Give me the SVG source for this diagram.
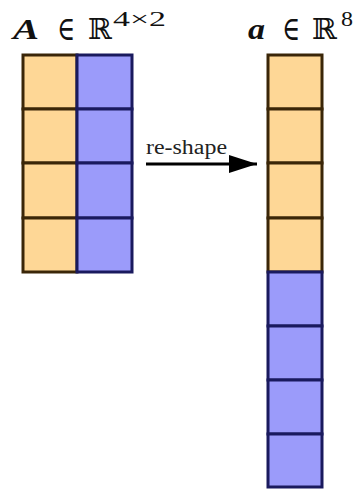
<svg xmlns="http://www.w3.org/2000/svg" width="355" height="489" viewBox="0 0 355 489">
  <style>
    .o { fill: #fed796; stroke: #3a2608; stroke-width: 3; }
    .b { fill: #9b9bfa; stroke: #1a1a5e; stroke-width: 3; }
    .t { font-family: "Liberation Serif", "DejaVu Serif", serif; fill: #111; font-size: 29px; }
    .el { font-family: "DejaVu Serif", serif; font-size: 34px; }
    .sup { font-size: 20px; }
    .bi { font-weight: bold; font-style: italic; }
    .lbl { font-family: "Liberation Serif", "DejaVu Serif", serif; font-size: 20px; fill: #222; }
  </style>
  <defs>
    <marker id="head" viewBox="0 0 28 18" refX="28" refY="9" markerWidth="28" markerHeight="18" markerUnits="userSpaceOnUse" orient="auto">
      <path d="M0,0 L28,9 L0,18 Z" fill="#000"/>
    </marker>
  </defs>

  <!-- matrix A (4 x 2) -->
  <g id="matrixA">
    <text class="t bi" x="13" y="39" textLength="26" lengthAdjust="spacingAndGlyphs">A</text>
    <text class="t el" x="57" y="40" textLength="18" lengthAdjust="spacingAndGlyphs">∈</text>
    <text class="t" x="88" y="39" textLength="24" lengthAdjust="spacingAndGlyphs">ℝ</text>
    <text class="t sup" x="113" y="26" textLength="53" lengthAdjust="spacingAndGlyphs">4×2</text>
    <rect class="o" x="23" y="55" width="54" height="54"/>
    <rect class="o" x="23" y="109" width="54" height="54"/>
    <rect class="o" x="23" y="163" width="54" height="55"/>
    <rect class="o" x="23" y="218" width="54" height="54"/>
    <rect class="b" x="77" y="55" width="55" height="54"/>
    <rect class="b" x="77" y="109" width="55" height="54"/>
    <rect class="b" x="77" y="163" width="55" height="55"/>
    <rect class="b" x="77" y="218" width="55" height="54"/>
  </g>

  <!-- vector a (8) -->
  <g id="vectorA">
    <text class="t bi" x="248" y="39" textLength="17" lengthAdjust="spacingAndGlyphs">a</text>
    <text class="t el" x="282" y="40" textLength="18" lengthAdjust="spacingAndGlyphs">∈</text>
    <text class="t" x="312" y="39" textLength="25" lengthAdjust="spacingAndGlyphs">ℝ</text>
    <text class="t sup" x="341" y="26" textLength="12" lengthAdjust="spacingAndGlyphs">8</text>
    <rect class="o" x="268" y="55" width="54" height="54"/>
    <rect class="o" x="268" y="109" width="54" height="54"/>
    <rect class="o" x="268" y="163" width="54" height="55"/>
    <rect class="o" x="268" y="218" width="54" height="54"/>
    <rect class="b" x="268" y="272" width="54" height="54"/>
    <rect class="b" x="268" y="326" width="54" height="54"/>
    <rect class="b" x="268" y="380" width="54" height="54"/>
    <rect class="b" x="268" y="434" width="54" height="53"/>
  </g>

  <!-- reshape connector -->
  <g id="connectors">
    <line x1="146" y1="164" x2="257" y2="164" stroke="#000" stroke-width="3" marker-end="url(#head)"/>
    <text class="lbl" x="146" y="154" textLength="81" lengthAdjust="spacingAndGlyphs">re-shape</text>
  </g>
</svg>
